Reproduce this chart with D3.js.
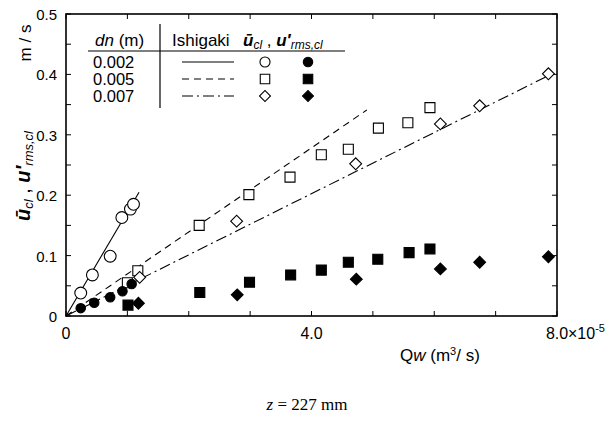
<!DOCTYPE html>
<html>
<head>
<meta charset="utf-8">
<script src="https://cdn.jsdelivr.net/npm/d3@7"></script>
<style>
  body { margin: 0; background: #fff; }
  text { fill: #000; }
</style>
</head>
<body>
<svg id="chart" width="609" height="423"></svg>
<script>
'use strict';

// Qw in units of 1e-5 m^3/s, velocities in m/s
const circleOpen = [[0.24, 0.038], [0.43, 0.068], [0.72, 0.099], [0.91, 0.163], [1.05, 0.177], [1.10, 0.185]];
const circleFilled = [[0.24, 0.013], [0.46, 0.022], [0.72, 0.031], [0.92, 0.041], [1.07, 0.053]];
const squareOpen = [[1.00, 0.055], [1.17, 0.075], [2.17, 0.150], [2.98, 0.201], [3.65, 0.230], [4.16, 0.267], [4.60, 0.276], [5.09, 0.311], [5.57, 0.320], [5.93, 0.345]];
const squareFilled = [[1.01, 0.018], [2.18, 0.039], [2.99, 0.056], [3.66, 0.068], [4.16, 0.076], [4.60, 0.089], [5.08, 0.094], [5.59, 0.105], [5.93, 0.111]];
const diamondOpen = [[1.20, 0.064], [2.78, 0.157], [4.72, 0.252], [6.10, 0.318], [6.74, 0.348], [7.86, 0.401]];
const diamondFilled = [[1.18, 0.021], [2.79, 0.035], [4.73, 0.061], [6.10, 0.078], [6.74, 0.089], [7.86, 0.098]];

// Ishigaki lines (start and end points)
const ishigaki002 = [[0, 0], [1.19, 0.205]];
const ishigaki005 = [[0, 0], [4.90, 0.341]];
const ishigaki007 = [[0, 0], [7.90, 0.400]];

const dnLabels = ['0.002', '0.005', '0.007'];
const xTickLabels = ['0', '4.0', '8.0'];
const yTickValues = [0, 0.1, 0.2, 0.3, 0.4, 0.5];

const svg = d3.select('#chart');

const x = d3.scaleLinear().domain([0, 8]).range([66, 557]);
const y = d3.scaleLinear().domain([0, 0.5]).range([316, 14]);

const sans = '"Liberation Sans", Arial, sans-serif';

// Frame
svg.append('rect')
   .attr('x', x(0)).attr('y', y(0.5))
   .attr('width', x(8) - x(0)).attr('height', y(0) - y(0.5))
   .attr('fill', 'none').attr('stroke', '#000').attr('stroke-width', 1.6);

// Inward ticks
const tickLen = 5;
const xTicks = d3.range(0, 9);
const yTicks = d3.range(0, 11).map(i => i * 0.05);
const ticks = svg.append('g').attr('stroke', '#000').attr('stroke-width', 1);
ticks.selectAll('.xb').data(xTicks).enter().append('line')
     .attr('x1', d => x(d)).attr('x2', d => x(d))
     .attr('y1', y(0)).attr('y2', y(0) - tickLen);
ticks.selectAll('.xt').data(xTicks).enter().append('line')
     .attr('x1', d => x(d)).attr('x2', d => x(d))
     .attr('y1', y(0.5)).attr('y2', y(0.5) + tickLen);
ticks.selectAll('.yl').data(yTicks).enter().append('line')
     .attr('x1', x(0)).attr('x2', x(0) + tickLen)
     .attr('y1', d => y(d)).attr('y2', d => y(d));
ticks.selectAll('.yr').data(yTicks).enter().append('line')
     .attr('x1', x(8)).attr('x2', x(8) - tickLen)
     .attr('y1', d => y(d)).attr('y2', d => y(d));

// Y tick labels
svg.append('g').selectAll('text').data(yTickValues).enter().append('text')
   .attr('x', 57).attr('y', d => y(d) + 6)
   .attr('text-anchor', 'end')
   .attr('font-family', sans).attr('font-size', 15)
   .text(d => d === 0 ? '0' : d.toFixed(1));

// X tick labels
[0, 4, 8].forEach((v, i) => {
    svg.append('text')
       .attr('x', x(v)).attr('y', 339)
       .attr('text-anchor', 'middle')
       .attr('font-family', sans).attr('font-size', 16)
       .text(xTickLabels[i]);
});
const sci = svg.append('text')
   .attr('x', x(8) + 11).attr('y', 339)
   .attr('font-family', sans).attr('font-size', 16);
sci.append('tspan').text('×10');
sci.append('tspan').attr('dy', -7).attr('font-size', 11).text('-5');

// X axis title
const xt = svg.append('text').attr('x', 400).attr('y', 361)
   .attr('font-family', sans).attr('font-size', 17);
xt.append('tspan').text('Q');
xt.append('tspan').attr('font-style', 'italic').text('w');
xt.append('tspan').text(' (m');
xt.append('tspan').attr('dy', -6).attr('font-size', 11).text('3');
xt.append('tspan').attr('dy', 6).text('/ s)');

// Y axis title
const yt = svg.append('text')
   .attr('transform', 'translate(30,176) rotate(-90)')
   .attr('text-anchor', 'middle')
   .attr('font-family', sans).attr('font-size', 20);
yt.append('tspan').attr('font-style', 'italic').attr('font-weight', 'bold').text('ū');
yt.append('tspan').attr('font-style', 'italic').attr('font-size', 13).attr('dy', 3).text('cl');
yt.append('tspan').attr('dy', -3).text('  ,  ');
yt.append('tspan').attr('font-style', 'italic').attr('font-weight', 'bold').text('u′');
yt.append('tspan').attr('font-style', 'italic').attr('font-size', 13).attr('dy', 3).text('rms,cl');

svg.append('text')
   .attr('transform', 'translate(31,43) rotate(-90)')
   .attr('text-anchor', 'middle')
   .attr('font-family', sans).attr('font-size', 17)
   .text('m / s');

// Ishigaki lines
const line = d3.line().x(d => x(d[0])).y(d => y(d[1]));
const lineStyles = [
    {data: ishigaki002, dash: null},
    {data: ishigaki005, dash: '7,5'},
    {data: ishigaki007, dash: '11,4,2,4'}
];
lineStyles.forEach(s => {
    svg.append('path')
       .datum(s.data)
       .attr('d', line)
       .attr('fill', 'none').attr('stroke', '#000').attr('stroke-width', 1.1)
       .attr('stroke-dasharray', s.dash);
});

// Markers
const symCircle = d3.symbol().type(d3.symbolCircle);
const symSquare = d3.symbol().type(d3.symbolSquare);

function drawMarkers(data, kind, filled, size) {
    const g = svg.append('g');
    g.selectAll('path').data(data).enter().append('path')
     .attr('d', (kind === 'circle' ? symCircle : symSquare).size(size)())
     .attr('transform', d => `translate(${x(d[0])},${y(d[1])})` + (kind === 'diamond' ? ' rotate(45)' : ''))
     .attr('fill', filled ? '#000' : '#fff')
     .attr('stroke', '#000').attr('stroke-width', 1.1);
}

drawMarkers(circleOpen, 'circle', false, 110);
drawMarkers(squareOpen, 'square', false, 100);
drawMarkers(diamondOpen, 'diamond', false, 70);
drawMarkers(circleFilled, 'circle', true, 70);
drawMarkers(squareFilled, 'square', true, 100);
drawMarkers(diamondFilled, 'diamond', true, 70);

// Legend
const legend = svg.append('g').attr('font-family', sans).attr('font-size', 17);
const h1 = legend.append('text').attr('x', 95).attr('y', 46);
h1.append('tspan').attr('font-style', 'italic').text('dn');
h1.append('tspan').text(' (m)');
legend.append('text').attr('x', 172).attr('y', 46).text('Ishigaki');
const h3 = legend.append('text').attr('x', 243).attr('y', 46);
h3.append('tspan').attr('font-style', 'italic').attr('font-weight', 'bold').text('ū');
h3.append('tspan').attr('font-style', 'italic').attr('font-size', 12).attr('dy', 3).text('cl');
h3.append('tspan').attr('dy', -3).text(' , ');
h3.append('tspan').attr('font-style', 'italic').attr('font-weight', 'bold').text('u′');
h3.append('tspan').attr('font-style', 'italic').attr('font-size', 12).attr('dy', 3).text('rms,cl');

legend.append('line').attr('x1', 88).attr('x2', 345).attr('y1', 51).attr('y2', 51)
      .attr('stroke', '#000').attr('stroke-width', 1.2);
legend.append('line').attr('x1', 160).attr('x2', 160).attr('y1', 24).attr('y2', 108)
      .attr('stroke', '#000').attr('stroke-width', 1.2);

const rowY = [62, 79, 96];
const legendDash = [null, '7,5', '11,4,2,4'];
const legendKinds = ['circle', 'square', 'diamond'];
dnLabels.forEach((lab, i) => {
    legend.append('text').attr('x', 93).attr('y', rowY[i] + 6).attr('font-size', 16.5).text(lab);
    legend.append('line').attr('x1', 182).attr('x2', 234).attr('y1', rowY[i]).attr('y2', rowY[i])
          .attr('stroke', '#000').attr('stroke-width', 1.1).attr('stroke-dasharray', legendDash[i]);
    [false, true].forEach((filled, j) => {
        const kind = legendKinds[i];
        const size = kind === 'circle' ? (filled ? 70 : 80) : (kind === 'square' ? 90 : 60);
        legend.append('path')
              .attr('d', (kind === 'circle' ? symCircle : symSquare).size(size)())
              .attr('transform', `translate(${j ? 308 : 265},${rowY[i]})` + (kind === 'diamond' ? ' rotate(45)' : ''))
              .attr('fill', filled ? '#000' : '#fff')
              .attr('stroke', '#000').attr('stroke-width', 1.1);
    });
});

// Caption
const cap = svg.append('text').attr('x', 307).attr('y', 410).attr('text-anchor', 'middle')
   .attr('font-family', '"Liberation Serif", "DejaVu Serif", serif').attr('font-size', 17);
cap.append('tspan').attr('font-style', 'italic').text('z');
cap.append('tspan').text(' = 227 mm');
</script>
</body>
</html>
